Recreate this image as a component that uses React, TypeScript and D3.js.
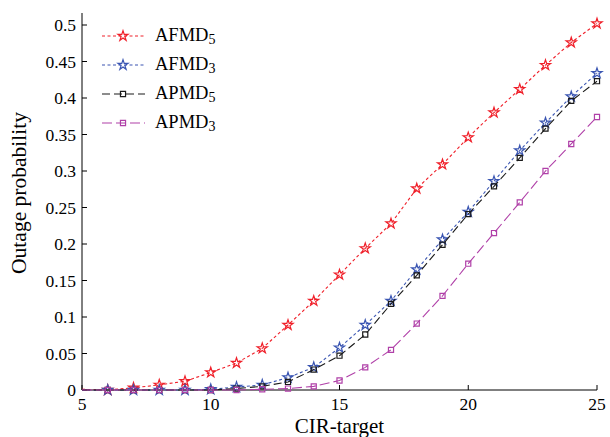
import React from 'react';
import * as d3 from 'd3';

const cir = [5, 6, 7, 8, 9, 10, 11, 12, 13, 14, 15, 16, 17, 18, 19, 20, 21, 22, 23, 24, 25];
const afmd5 = [0.001, 0.0, 0.003, 0.007, 0.012, 0.024, 0.037, 0.057, 0.089, 0.122, 0.158, 0.194, 0.228, 0.276, 0.309, 0.346, 0.38, 0.412, 0.445, 0.476, 0.502];
const afmd3 = [0, 0, 0, 0, 0, 0.001, 0.004, 0.007, 0.017, 0.031, 0.058, 0.089, 0.122, 0.165, 0.206, 0.244, 0.286, 0.328, 0.366, 0.402, 0.434];
const apmd5 = [0, 0, 0, 0, 0, 0, 0.002, 0.005, 0.011, 0.028, 0.047, 0.076, 0.118, 0.157, 0.199, 0.241, 0.279, 0.318, 0.358, 0.396, 0.423];
const apmd3 = [0, 0, 0, 0, 0, 0, 0, 0.001, 0.002, 0.005, 0.013, 0.031, 0.055, 0.091, 0.129, 0.173, 0.215, 0.257, 0.3, 0.337, 0.374];
const xTicks = [5, 10, 15, 20, 25];
const yTicks = [0, 0.05, 0.1, 0.15, 0.2, 0.25, 0.3, 0.35, 0.4, 0.45, 0.5];

const series = [
  { name: 'AFMD', sub: '5', values: afmd5, color: '#f0202a', dash: '3,2.5', marker: 'star' },
  { name: 'AFMD', sub: '3', values: afmd3, color: '#3a55b2', dash: '3,2.5', marker: 'star' },
  { name: 'APMD', sub: '5', values: apmd5, color: '#1a1a1a', dash: '8,4', marker: 'square' },
  { name: 'APMD', sub: '3', values: apmd3, color: '#b040a8', dash: '10,4', marker: 'square' },
];

const W = 610;
const H = 437;
const left = 82, right = 597, top = 13, bottom = 390;
const font = '"Liberation Serif", "Times New Roman", serif';

export default function App() {
  const x = d3.scaleLinear().domain([5, 25]).range([left, right]);
  const y = d3.scaleLinear().domain([0, 0.5]).range([bottom, 25]);
  const star = d3.symbol().type(d3.symbolStar).size(32)() as string;
  const square = d3.symbol().type(d3.symbolSquare).size(26)() as string;

  const marker = (kind: string, cx: number, cy: number, color: string, key: string) => (
    <path key={key} d={kind === 'star' ? star : square} transform={`translate(${cx},${cy})`}
      fill="none" stroke={color} strokeWidth={1.2} />
  );

  return (
    <svg width={W} height={H} style={{ position: 'absolute', left: 0, top: 0, background: '#fff' }}
      fontFamily={font}>
      {/* axes */}
      <line x1={left} y1={top} x2={left} y2={bottom} stroke="#000" strokeWidth={1} />
      <line x1={left} y1={bottom} x2={right} y2={bottom} stroke="#000" strokeWidth={1} />
      {yTicks.map((t) => (
        <g key={'y' + t}>
          <line x1={left} x2={left + 5} y1={y(t)} y2={y(t)} stroke="#000" />
          <text x={left - 6} y={y(t)} dy="0.35em" textAnchor="end" fontSize={17.5}>{String(t)}</text>
        </g>
      ))}
      {xTicks.map((t) => (
        <g key={'x' + t}>
          <line x1={x(t)} x2={x(t)} y1={bottom} y2={bottom - 5} stroke="#000" />
          <text x={x(t)} y={bottom + 20} textAnchor="middle" fontSize={17.5}>{t}</text>
        </g>
      ))}
      <text x={x(15)} y={433} textAnchor="middle" fontSize={21}>CIR-target</text>
      <text transform={`translate(26,193) rotate(-90)`} textAnchor="middle" fontSize={21.5}>
        Outage probability
      </text>

      {/* series */}
      {series.map((s, si) => {
        const line = d3.line<number>().x((_, i) => x(cir[i])).y((v) => y(v));
        return (
          <g key={'s' + si}>
            <path d={line(s.values) || ''} fill="none" stroke={s.color} strokeWidth={1.1} strokeDasharray={s.dash} />
            {s.values.map((v, i) => (cir[i] >= 6 ? marker(s.marker, x(cir[i]), y(v), s.color, `m${si}-${i}`) : null))}
          </g>
        );
      })}

      {/* legend */}
      {series.map((s, i) => {
        const ly = 36 + i * 29;
        return (
          <g key={'l' + i}>
            <line x1={102} x2={145} y1={ly} y2={ly} stroke={s.color} strokeWidth={1.1} strokeDasharray={s.dash} />
            {marker(s.marker, 123, ly, s.color, 'lm' + i)}
            <text x={155} y={ly + 5} fontSize={18.5}>
              {s.name}
              <tspan fontSize={14} dy={3}>{s.sub}</tspan>
            </text>
          </g>
        );
      })}
    </svg>
  );
}
